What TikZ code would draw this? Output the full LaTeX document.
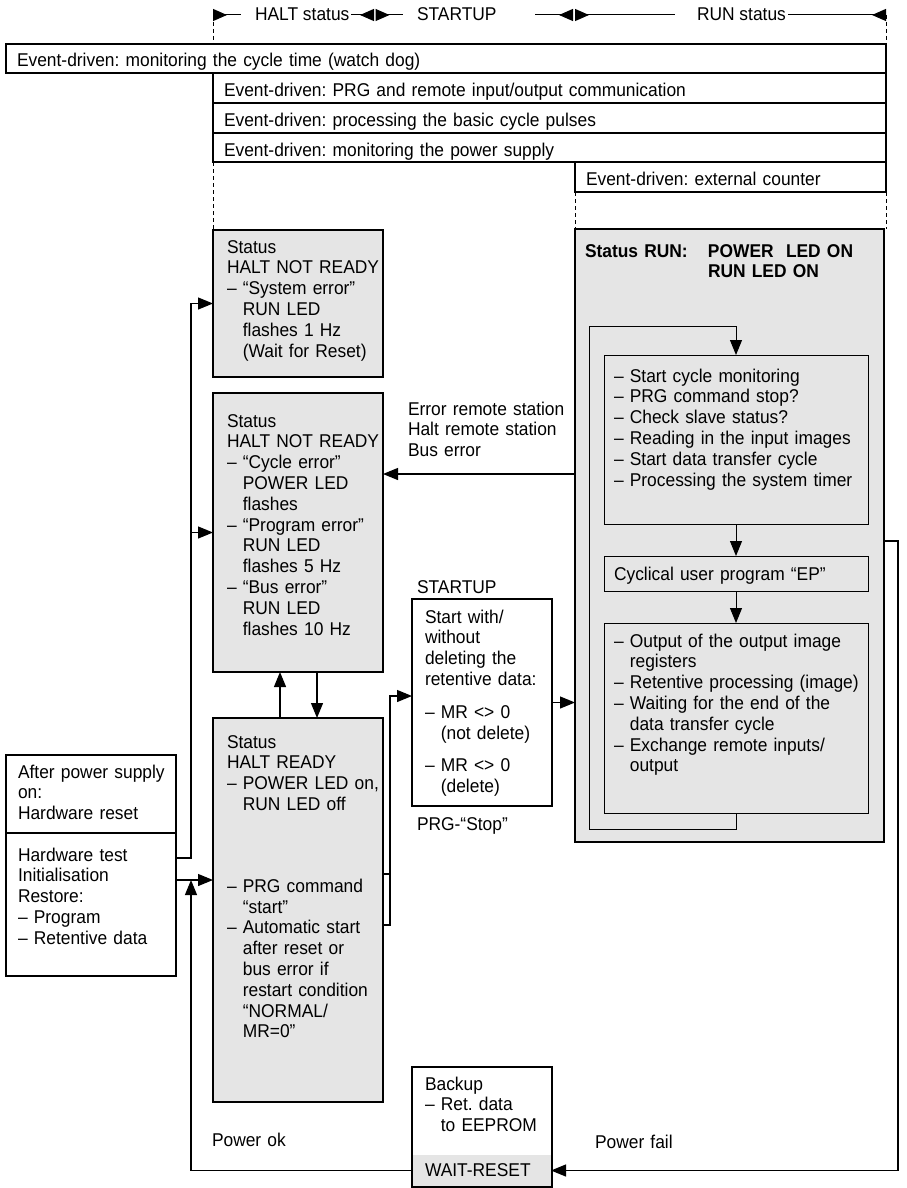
\documentclass[tikz,border=0pt]{standalone}
\usepackage{fontspec}
\setmainfont{Liberation Sans}[FakeStretch=0.94]
\usepackage{tikz}
\usetikzlibrary{arrows.meta, positioning, calc}
\definecolor{haltgray}{gray}{0.9}
\newcommand{\ind}{\hphantom{– }}
\newcommand{\boxlines}[1]{\begin{tabular}[t]{@{}l@{}}#1\end{tabular}}
\frenchspacing

\begin{document}
\begin{tikzpicture}[x=1pt, y=-1pt, line width=1.2pt,
            every node/.style={font=\fontsize{18.5}{20.8}\selectfont, outer sep=0pt},
            evbox/.style={draw, fill=white, anchor=north west, align=left, inner ysep=0pt, inner xsep=11pt},
            haltbox/.style={draw, fill=haltgray, anchor=north west, align=left, inner ysep=0pt, inner xsep=14pt},
            plainbox/.style={draw, fill=white, anchor=north west, align=left, inner ysep=0pt, inner xsep=13pt},
            runbox/.style={draw, fill=haltgray, anchor=north west, align=left, inner ysep=0pt, inner xsep=10pt},
            lbl/.style={anchor=base west, align=left, inner sep=0pt, text width=180pt},
            hdr/.style={anchor=base west, fill=white, inner xsep=2pt, inner ysep=1pt},
            flow/.style={-{Triangle[length=15pt, width=12pt]}},
            phase/.style={arrows={Triangle[reversed, length=14pt, width=12pt]}-{Triangle[reversed, length=14pt, width=12pt]}, line width=1pt},
            guide/.style={line width=0.8pt, dash pattern=on 4pt off 3pt}]
            \useasboundingbox (0,0) rectangle (906,1188);
            \coordinate (haltA) at (213,15);
            \coordinate (haltB) at (374,15);
            \coordinate (startA) at (375.5,15);
            \coordinate (startB) at (573,15);
            \coordinate (runA) at (575,15);
            \coordinate (runB) at (886,15);
            \draw[phase] (haltA) -- (haltB);
            \draw[phase] (startA) -- (startB);
            \draw[phase] (runA) -- (runB);
            \node[hdr] (halttxt) at (241,21) {\hspace*{12pt}HALT status};
            \node[hdr] (starttxt) at (403,21) {\hspace*{12pt}STARTUP\hspace*{36pt}};
            \node[hdr] (runtxt) at (675,21) {\hspace*{20pt}RUN status};
            \node[evbox, text width=858pt, text height=23pt, text depth=6pt] (watchdog) at (6,44) {Event-driven: monitoring the cycle time (watch dog)};
            \node[evbox, text width=651pt, text height=24pt, text depth=6pt] (prgcom) at (213,73) {Event-driven: PRG and remote input/output communication};
            \node[evbox, text width=651pt, text height=24pt, text depth=6pt] (pulses) at (213,103) {Event-driven: processing the basic cycle pulses};
            \node[evbox, text width=651pt, text height=24pt, text depth=5pt] (powmon) at (213,133) {Event-driven: monitoring the power supply};
            \node[evbox, text width=289pt, text height=23pt, text depth=7pt] (extcnt) at (575,162) {Event-driven: external counter};
            \node[haltbox, text width=142pt, text height=23pt, text depth=124pt] (syserr) at (213,230) {\boxlines{Status\\HALT NOT READY\\– “System error”\\\ind RUN LED\\\ind flashes 1 Hz\\\ind (Wait for Reset)}};
            \node[haltbox, text width=142pt, text height=34pt, text depth=245pt] (notready) at (213,393) {\boxlines{Status\\HALT NOT READY\\– “Cycle error”\\\ind POWER LED\\\ind flashes\\– “Program error”\\\ind RUN LED\\\ind flashes 5 Hz\\– “Bus error”\\\ind RUN LED\\\ind flashes 10 Hz}};
            \node[haltbox, text width=142pt, text height=30pt, text depth=354pt] (ready) at (213,718) {\boxlines{Status\\HALT READY\\– POWER LED on,\\\ind RUN LED off\\[61pt]– PRG command\\\ind “start”\\– Automatic start\\\ind after reset or\\\ind bus error if\\\ind restart condition\\\ind “NORMAL/\\\ind MR=0”}};
            \node[plainbox, inner xsep=12pt, text width=146pt, text height=23pt, text depth=55pt] (poweron) at (6,755) {\boxlines{After power supply\\on:\\Hardware reset}};
            \node[plainbox, inner xsep=12pt, text width=146pt, text height=28pt, text depth=115pt, below=0pt of poweron] (hwtest) {\boxlines{Hardware test\\Initialisation\\Restore:\\– Program\\– Retentive data}};
            \node[plainbox, text width=114pt, text height=24pt, text depth=183pt] (startup) at (412,599) {\boxlines{Start with/\\without\\deleting the\\retentive data:\\[12pt]– MR <> 0\\\ind (not delete)\\[12pt]– MR <> 0\\\ind (delete)}};
            \node[plainbox, text width=114pt, text height=23pt, text depth=97pt] (backup) at (412,1067) {\boxlines{Backup\\– Ret. data\\\ind to EEPROM}};
            \node[fill=haltgray, anchor=north west, align=left, inner ysep=0pt, inner xsep=12pt, text width=114pt, text height=21pt, text depth=10pt] (waitreset) at (413,1155) {WAIT-RESET};
            \node[runbox, text width=289pt, text height=28pt, text depth=585pt] (run) at (575,229) {\boxlines{\textbf{\makebox[123pt][l]{Status RUN:}POWER\ \ LED ON}\\\textbf{\hspace*{123pt}RUN LED ON}}};
            \node[runbox, line width=1pt, text width=244pt, text height=27pt, text depth=142pt] (cycle) at (604,355) {\boxlines{– Start cycle monitoring\\– PRG command stop?\\– Check slave status?\\– Reading in the input images\\– Start data transfer cycle\\– Processing the system timer}};
            \node[runbox, line width=1pt, text width=244pt, text height=24pt, text depth=11pt, below=32pt of cycle] (userprg) {Cyclical user program “EP”};
            \node[runbox, line width=1pt, text width=244pt, text height=24pt, text depth=166pt, below=32pt of userprg] (output) {\boxlines{– Output of the output image\\\ind registers\\– Retentive processing (image)\\– Waiting for the end of the\\\ind data transfer cycle\\– Exchange remote inputs/\\\ind output}};
            \draw[guide] (haltA) -- (haltA |- watchdog.north);
            \draw[guide] (runB) -- (runB |- watchdog.north);
            \draw[guide] (powmon.south west) -- (powmon.south west |- syserr.north);
            \draw[guide] (extcnt.south west) -- (extcnt.south west |- run.north);
            \draw[guide] (extcnt.south east) -- (extcnt.south east |- run.north);
            \coordinate (loopB) at (589,829);
            \coordinate (loopT) at (589,326);
            \draw[flow, line width=1pt] (output.south) |- (loopB) -- (loopT) -| (cycle.north);
            \draw[flow, line width=1pt] (cycle) -- (userprg);
            \draw[flow, line width=1pt] (userprg) -- (output);
            \draw[flow] (startup.east) -- (startup.east -| run.west);
            \coordinate (errpt) at (575,474);
            \draw[flow] (errpt) -- (errpt -| notready.east);
            \node[lbl] (errlbl) at (408,415) {Error remote station\\Halt remote station\\Bus error};
            \draw[flow] ([xshift=-18pt]ready.north) -- ([xshift=-18pt]notready.south);
            \draw[flow] ([xshift=19pt]notready.south) -- ([xshift=19pt]ready.north);
            \coordinate (hwA) at (176,858);
            \coordinate (hwB) at (176,880);
            \coordinate (busL) at (191,858);
            \draw[flow] (hwA) -- (busL) |- (syserr.west);
            \draw[flow] (busL |- notready.west) -- (notready.west);
            \draw[flow] (hwB) -- (hwB -| ready.west);
            \draw[flow] (waitreset.west) -| (busL |- hwB);
            \coordinate (rdA) at (383,874);
            \coordinate (rdB) at (383,925);
            \coordinate (stL) at (390,696);
            \draw (rdA) -- (rdA -| stL);
            \draw[flow] (rdB) -| (stL) -- (stL -| startup.west);
            \coordinate (pfA) at (884,541);
            \coordinate (pfR) at (898,541);
            \draw[flow] (pfA) -- (pfR) |- (waitreset.east);
            \node[lbl] (startlbl) at (417,593) {STARTUP};
            \node[lbl] (stoplbl) at (417,830) {PRG-“Stop”};
            \node[lbl] (powok) at (212,1146) {Power ok};
            \node[lbl] (powfail) at (595,1148) {Power fail};
        \end{tikzpicture}
\end{document}
